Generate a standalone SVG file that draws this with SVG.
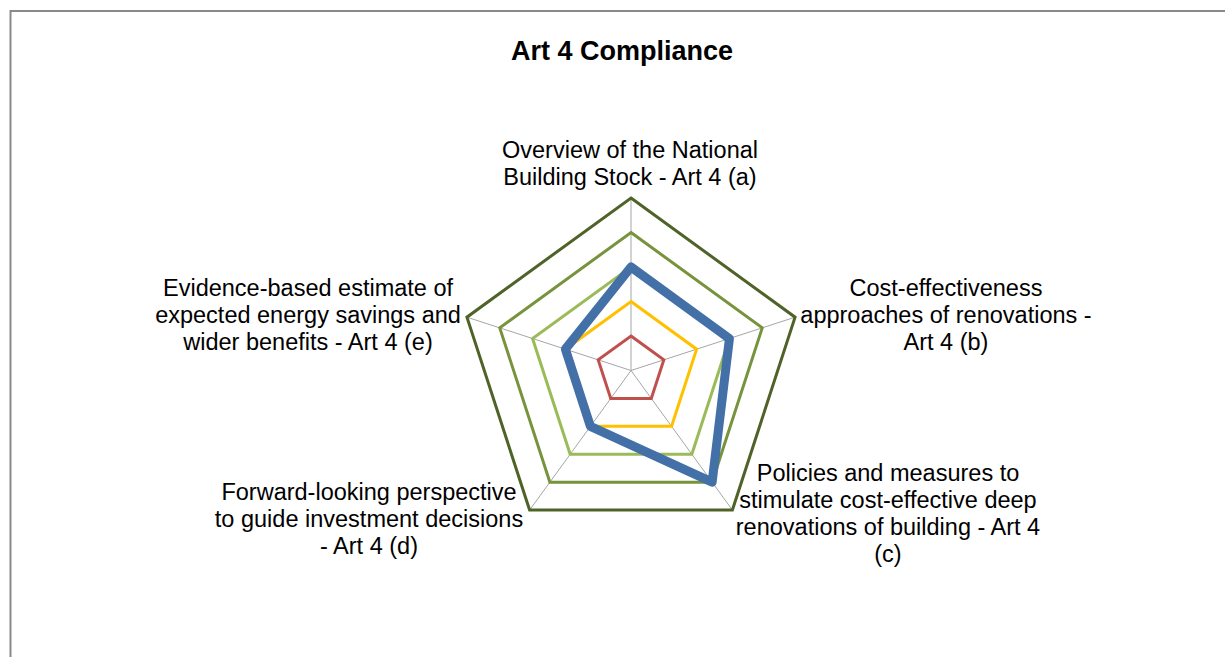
<svg xmlns="http://www.w3.org/2000/svg" width="1225" height="657" viewBox="0 0 1225 657">
<style>
.lbl{font-family:"Liberation Sans",Arial,sans-serif;font-size:23.5px;fill:#000;text-anchor:middle}
.title{font-family:"Liberation Sans",Arial,sans-serif;font-size:27px;font-weight:bold;fill:#000;text-anchor:middle}
.ring{fill:none;stroke-width:3;stroke-linejoin:miter}
.blue{fill:none;stroke:#4470A8;stroke-width:9;stroke-linejoin:round}
.spoke{stroke:#A6A6A6;stroke-width:1}
</style>
<rect x="0" y="0" width="1225" height="657" fill="#fff"/>
<path d="M10.5,657 V11 H1225" fill="none" stroke="#898989" stroke-width="2"/>
<text class="title" x="622" y="60">Art 4 Compliance</text>
<g id="grid">
<line class="spoke" x1="631" y1="370.5" x2="631" y2="198"/>
<line class="spoke" x1="631" y1="370.5" x2="795.07" y2="317.19"/>
<line class="spoke" x1="631" y1="370.5" x2="732.39" y2="510.06"/>
<line class="spoke" x1="631" y1="370.5" x2="529.61" y2="510.06"/>
<line class="spoke" x1="631" y1="370.5" x2="466.93" y2="317.19"/>
</g>
<g id="series">
<polygon class="ring" stroke="#4F6228" points="631,198 795.07,317.19 732.39,510.06 529.61,510.06 466.93,317.19"/>
<polygon class="ring" stroke="#77933C" points="631,232.5 762.25,327.86 712.12,482.14 549.88,482.14 499.75,327.86"/>
<polygon class="ring" stroke="#9BBB59" points="631,267 729.44,338.52 691.84,454.23 570.16,454.23 532.56,338.52"/>
<polygon class="ring" stroke="#FFC000" points="631,301.5 696.63,349.18 671.56,426.32 590.44,426.32 565.37,349.18"/>
<polygon class="ring" stroke="#C0504D" points="631,336 663.81,359.84 651.28,398.41 610.72,398.41 598.19,359.84"/>
<polygon class="blue" points="631,267 729.44,338.52 712.12,482.14 590.44,426.32 565.37,349.18"/>
</g>
<g id="label-a">
<text class="lbl" x="630" y="158">Overview of the National</text>
<text class="lbl" x="630" y="185">Building Stock - Art 4 (a)</text>
</g>
<g id="label-b">
<text class="lbl" x="946" y="296">Cost-effectiveness</text>
<text class="lbl" x="946" y="323">approaches of renovations -</text>
<text class="lbl" x="946" y="350">Art 4 (b)</text>
</g>
<g id="label-c">
<text class="lbl" x="888" y="481">Policies and measures to</text>
<text class="lbl" x="888" y="508">stimulate cost-effective deep</text>
<text class="lbl" x="888" y="535">renovations of building - Art 4</text>
<text class="lbl" x="888" y="562">(c)</text>
</g>
<g id="label-d">
<text class="lbl" x="369" y="500">Forward-looking perspective</text>
<text class="lbl" x="369" y="527">to guide investment decisions</text>
<text class="lbl" x="369" y="554">- Art 4 (d)</text>
</g>
<g id="label-e">
<text class="lbl" x="308" y="296">Evidence-based estimate of</text>
<text class="lbl" x="308" y="323">expected energy savings and</text>
<text class="lbl" x="308" y="350">wider benefits - Art 4 (e)</text>
</g>
</svg>
